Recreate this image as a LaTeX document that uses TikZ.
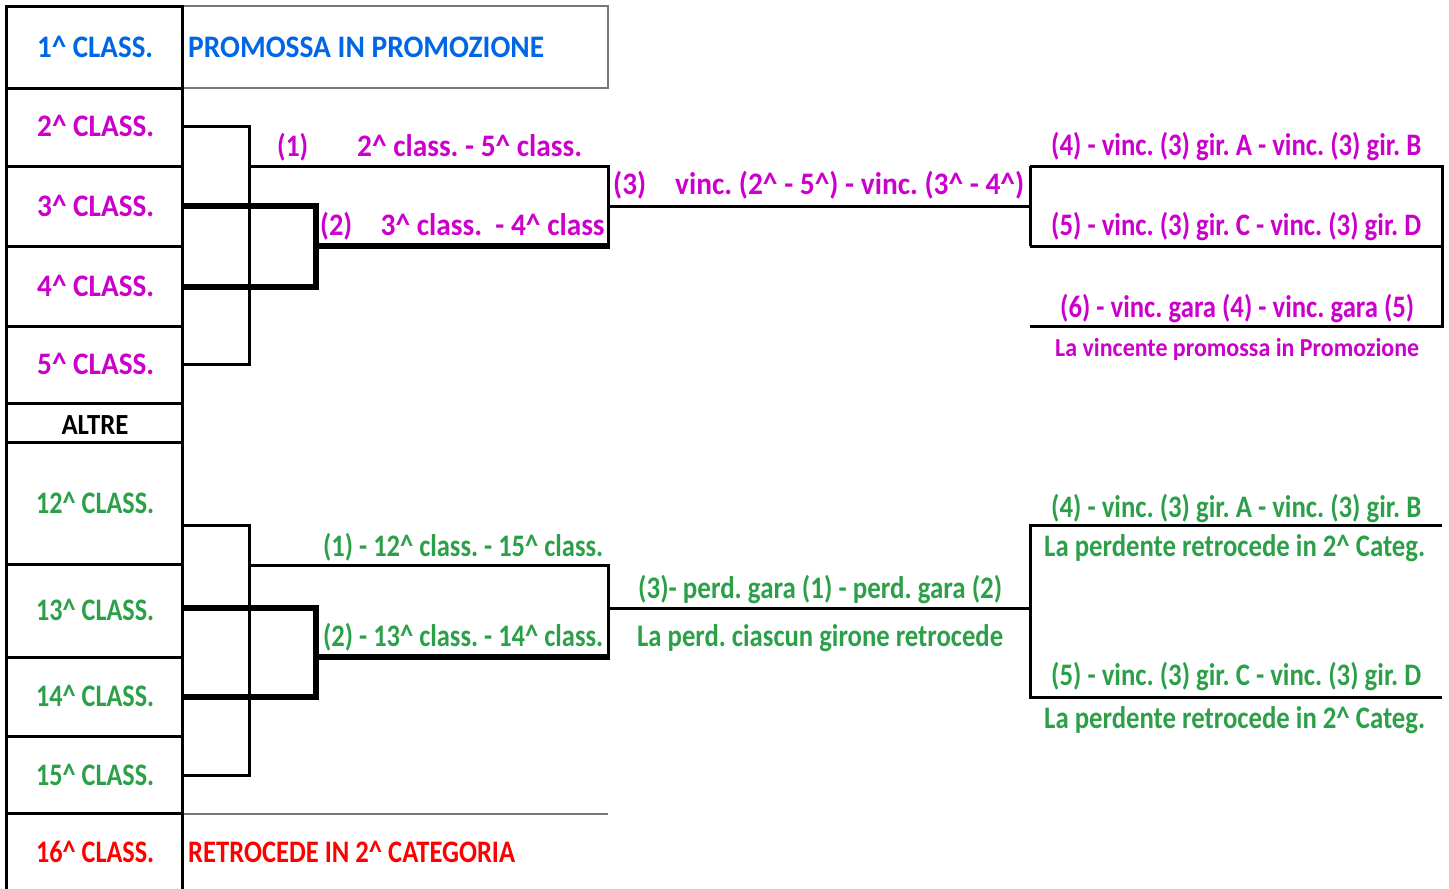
\documentclass[tikz,border=0pt]{standalone}
\usepackage{fontspec}
\usepackage{graphicx}
\setmainfont{Carlito}
\definecolor{cblue}{RGB}{0,102,230}
\definecolor{cmag}{RGB}{204,0,204}
\definecolor{cgreen}{RGB}{44,160,72}
\definecolor{cred}{RGB}{255,0,0}
\definecolor{cgray}{RGB}{120,120,120}
\newcommand\crt{\textasciicircum}
\newcommand\tw[2]{\resizebox{#1pt}{\height}{#2}}
\begin{document}
\frenchspacing
\begin{tikzpicture}[x=1pt,y=-1pt,line join=miter,
  tline/.style={line width=3pt,black},
  kline/.style={line width=6pt,black},
  gline/.style={line width=1.2pt,cgray},
  lab/.style={inner sep=0pt,anchor=base west,yscale=1.08,transform shape,font=\fontsize{29}{31}\selectfont\bfseries},
  labc/.style={lab,anchor=base},
  small/.style={font=\fontsize{24}{26}\selectfont\bfseries}]
\useasboundingbox (0,0) rectangle (1449,889);

% ---------- left column ----------
\draw[gline] (182,6) rectangle (608,88);
\draw[gline] (182,814) -- (608,814);
\draw[tline] (6,889) -- (6,6) -- (182,6) -- (182,889);
\foreach \y in {88,166,246,326,403,442,564,657,736,813}
  \draw[tline] (6,\y) -- (182,\y);

\node[lab,text=cblue] (c1) at (37,57) {\tw{116}{1\crt{} CLASS.}};
\node[lab,text=cblue] (p1) at (188,57) {\tw{356}{PROMOSSA IN PROMOZIONE}};
\node[lab,text=cmag] (c2) at (37,136) {\tw{117}{2\crt{} CLASS.}};
\node[lab,text=cmag] (c3) at (37,216) {\tw{117}{3\crt{} CLASS.}};
\node[lab,text=cmag] (c4) at (37,296) {\tw{117}{4\crt{} CLASS.}};
\node[lab,text=cmag] (c5) at (37,374) {\tw{117}{5\crt{} CLASS.}};
\node[labc,font=\fontsize{27}{29}\selectfont\bfseries] (alt) at (95,434) {\tw{67}{ALTRE}};
\node[lab,text=cgreen] (c12) at (36,513) {\tw{118}{12\crt{} CLASS.}};
\node[lab,text=cgreen] (c13) at (36,620) {\tw{118}{13\crt{} CLASS.}};
\node[lab,text=cgreen] (c14) at (36,706) {\tw{118}{14\crt{} CLASS.}};
\node[lab,text=cgreen] (c15) at (36,785) {\tw{118}{15\crt{} CLASS.}};
\node[lab,text=cred] (c16) at (36,862) {\tw{118}{16\crt{} CLASS.}};
\node[lab,text=cred] (p16) at (188,862) {\tw{327}{RETROCEDE IN 2\crt{} CATEGORIA}};

% ---------- upper bracket coordinates ----------
\coordinate (u2) at (182,126);
\coordinate (u3) at (182,206);
\coordinate (u4) at (182,287);
\coordinate (u5) at (182,364);
\coordinate (uA) at (249,126);
\coordinate (uB) at (249,364);
\coordinate (uK) at (316,206);
\coordinate (uL) at (316,287);
\coordinate (u1s) at (249,166);
\coordinate (u1e) at (608,166);
\coordinate (u2s) at (316,246);
\coordinate (u2e) at (609.5,246);
\coordinate (u3s) at (608,206);
\coordinate (u3e) at (1030,206);
\coordinate (r1) at (1030,166);
\coordinate (r2) at (1030,246);
\coordinate (r3) at (1030,326);
\coordinate (s1) at (1442,166);
\coordinate (s2) at (1442,246);
\coordinate (s3) at (1442,326);

\draw[tline] (u2) -- (uA) -- (uB) -- (u5);
\draw[tline] (u1s) -- (u1e) -- (608,246);
\draw[kline] (u3) -- (uK) -- (uL) -- (u4);
\draw[kline] (u2s) -- (u2e);
\draw[tline] (u3s) -- (u3e);
\draw[tline] (r1) -- (r2);
\draw[tline] (r1) -- (s1) -- (s3) -- (r3);
\draw[tline] (r2) -- (s2);

% upper labels
\node[lab,text=cmag] (t1a) at (277,156) {\tw{31}{(1)}};
\node[lab,text=cmag] (t1b) at (357,156) {\tw{225}{2\crt{} class. - 5\crt{} class.}};
\node[lab,text=cmag] (t2a) at (320,235) {\tw{32}{(2)}};
\node[lab,text=cmag] (t2b) at (380.5,235) {\tw{224}{3\crt{} class.\ \ - 4\crt{} class}};
\node[lab,text=cmag] (t3a) at (613,194) {\tw{33}{(3)}};
\node[lab,text=cmag] (t3b) at (675,194) {\tw{349}{vinc. (2\crt{} - 5\crt{}) - vinc. (3\crt{} - 4\crt{})}};
\node[lab,text=cmag] (t4) at (1051,155) {\tw{370}{(4) - vinc. (3) gir. A - vinc. (3) gir. B}};
\node[lab,text=cmag] (t5) at (1051,235) {\tw{370}{(5) - vinc. (3) gir. C - vinc. (3) gir. D}};
\node[lab,text=cmag] (t6) at (1060,317) {\tw{354}{(6) - vinc. gara (4) - vinc. gara (5)}};
\node[lab,small,text=cmag] (t7) at (1055,356) {\tw{364}{La vincente promossa in Promozione}};

% ---------- lower bracket coordinates ----------
\coordinate (l12) at (182,525);
\coordinate (l13) at (182,608);
\coordinate (l14) at (182,697);
\coordinate (l15) at (182,775);
\coordinate (lA) at (249,525);
\coordinate (lB) at (249,775);
\coordinate (lK) at (316,608);
\coordinate (lL) at (316,697);
\coordinate (l1s) at (249,565);
\coordinate (l1e) at (608,565);
\coordinate (l2s) at (316,657);
\coordinate (l2e) at (609.5,657);
\coordinate (l3s) at (608,608);
\coordinate (l3e) at (1030,608);
\coordinate (q1) at (1030,525);
\coordinate (q2) at (1030,697);
\coordinate (w1) at (1442,525);
\coordinate (w2) at (1442,697);

\draw[tline] (l12) -- (lA) -- (lB) -- (l15);
\draw[tline] (l1s) -- (l1e) -- (608,657);
\draw[kline] (l13) -- (lK) -- (lL) -- (l14);
\draw[kline] (l2s) -- (l2e);
\draw[tline] (l3s) -- (l3e);
\draw[tline] (w1) -- (q1) -- (q2) -- (w2);

% lower labels
\node[lab,text=cgreen] (g1) at (323,556) {\tw{280}{(1) - 12\crt{} class. - 15\crt{} class.}};
\node[lab,text=cgreen] (g2) at (323,646) {\tw{280}{(2) - 13\crt{} class. - 14\crt{} class.}};
\node[lab,text=cgreen] (g3) at (638,598) {\tw{364}{(3)- perd. gara (1) - perd. gara (2)}};
\node[lab,text=cgreen] (g3b) at (637,646) {\tw{366}{La perd. ciascun girone retrocede}};
\node[lab,text=cgreen] (g4) at (1051,517) {\tw{370}{(4) - vinc. (3) gir. A - vinc. (3) gir. B}};
\node[lab,text=cgreen] (g4b) at (1044,556) {\tw{381}{La perdente retrocede in 2\crt{} Categ.}};
\node[lab,text=cgreen] (g5) at (1051,685) {\tw{370}{(5) - vinc. (3) gir. C - vinc. (3) gir. D}};
\node[lab,text=cgreen] (g5b) at (1044,728) {\tw{381}{La perdente retrocede in 2\crt{} Categ.}};
\end{tikzpicture}
\end{document}
